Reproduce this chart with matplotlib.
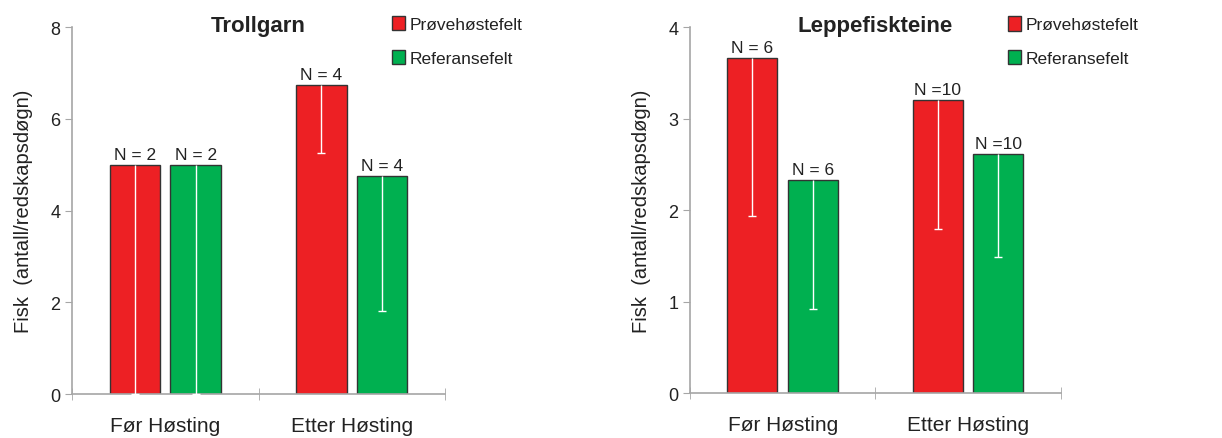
import numpy as np
import matplotlib
matplotlib.use("Agg")
import matplotlib.pyplot as plt
from matplotlib.patches import Patch

plt.rcParams['font.family'] = ['Liberation Sans', 'DejaVu Sans']

kategorier = ["Før Høsting", "Etter Høsting"]
serier = ["Prøvehøstefelt", "Referansefelt"]
farger = ["#ED2024", "#00B050"]

# Trollgarn
troll_prove = [5.0, 6.73]
troll_ref = [5.0, 4.76]
troll_err_prove = [5.0, 1.48]
troll_err_ref = [5.0, 2.95]
troll_n_prove = ["N = 2", "N = 4"]
troll_n_ref = ["N = 2", "N = 4"]

# Leppefiskteine
lepp_prove = [3.66, 3.20]
lepp_ref = [2.33, 2.61]
lepp_err_prove = [1.73, 1.41]
lepp_err_ref = [1.41, 1.12]
lepp_n_prove = ["N = 6", "N =10"]
lepp_n_ref = ["N = 6", "N =10"]

fig = plt.figure(figsize=(12.22, 4.39), dpi=100)
ax1 = fig.add_axes([0.0589, 0.1002, 0.3053, 0.836])
ax2 = fig.add_axes([0.5646, 0.1025, 0.3036, 0.8335])

bredde = 0.27
forskyv = 0.163
grå = "#A6A6A6"
tekst = "#222222"


def tegn(ax, prove, ref, err_p, err_r, n_p, n_r, tittel, ymax, steg):
    x = np.arange(len(kategorier))
    for verdier, feil, nlab, off, farge in [(prove, err_p, n_p, -forskyv, farger[0]),
                                             (ref, err_r, n_r, forskyv, farger[1])]:
        verdier = np.array(verdier)
        feil = np.array(feil)
        ax.bar(x + off, verdier, bredde, color=farge, edgecolor="#333333", linewidth=1.0, zorder=2)
        # kun nedre feilstolpe, hvit
        ax.vlines(x + off, verdier - feil, verdier, color="white", linewidth=1.0, zorder=3)
        ax.plot(x + off, verdier - feil, linestyle="none", marker="_", markersize=6,
                markeredgewidth=1.0, color="white", zorder=3, clip_on=True)
        for xi, v, t in zip(x + off, verdier, nlab):
            ax.annotate(t, (xi, v), xytext=(0, 2), textcoords="offset points",
                        ha="center", va="bottom", fontsize=12.5, color=tekst)
    ax.set_xlim(-0.5, 1.5)
    ax.set_ylim(0, ymax)
    ax.set_yticks(np.arange(0, ymax + 0.001, steg))
    ax.set_xticks(x)
    ax.set_xticklabels(kategorier, fontsize=15, color=tekst)
    ax.set_xticks([-0.5, 0.5, 1.5], minor=True)
    ax.tick_params(axis="x", which="major", length=0, pad=16)
    ax.tick_params(axis="x", which="minor", length=8, direction="inout", color=grå)
    ax.tick_params(axis="y", length=5, color=grå, labelsize=13, labelcolor=tekst)
    for s in ["top", "right"]:
        ax.spines[s].set_visible(False)
    for s in ["left", "bottom"]:
        ax.spines[s].set_color(grå)
        ax.spines[s].set_linewidth(1.2)
    ax.set_ylabel("Fisk  (antall/redskapsdøgn)", fontsize=14.5, color=tekst, labelpad=12)
    ax.set_title(tittel, fontsize=16, fontweight="bold", color=tekst, y=1.0, pad=-3)
    handles = [Patch(facecolor=farger[0], edgecolor="#333333", linewidth=1.0),
               Patch(facecolor=farger[1], edgecolor="#333333", linewidth=1.0)]
    ax.legend(handles, serier, loc="upper left", bbox_to_anchor=(0.857, 1.03),
              frameon=False, fontsize=12.5, handlelength=0.75, handleheight=0.9,
              handletextpad=0.3, borderpad=0, borderaxespad=0, labelspacing=1.0,
              labelcolor=tekst)


tegn(ax1, troll_prove, troll_ref, troll_err_prove, troll_err_ref,
     troll_n_prove, troll_n_ref, "Trollgarn", 8, 2)
tegn(ax2, lepp_prove, lepp_ref, lepp_err_prove, lepp_err_ref,
     lepp_n_prove, lepp_n_ref, "Leppefiskteine", 4, 1)

fig.savefig("out.png", dpi=100)
